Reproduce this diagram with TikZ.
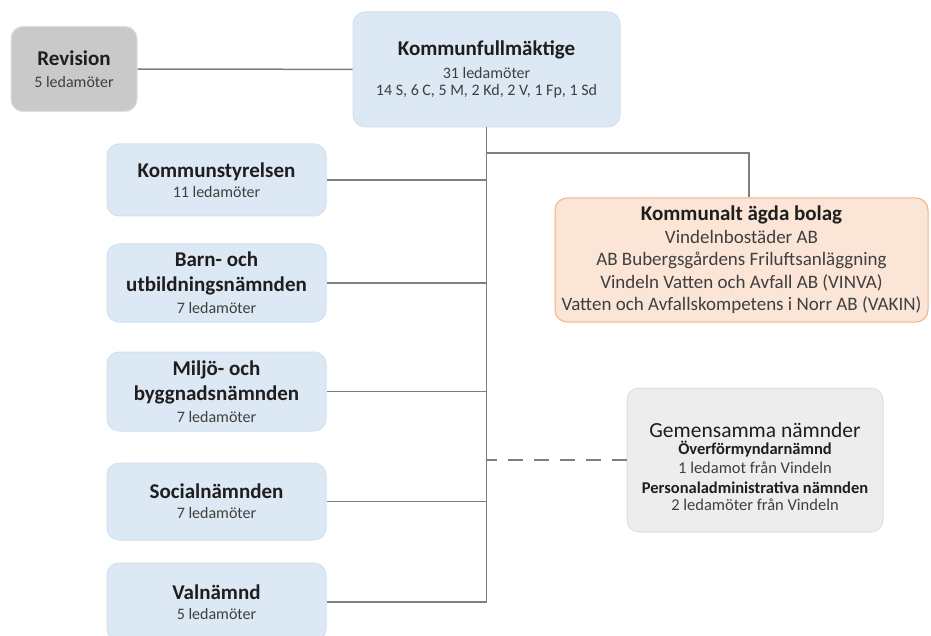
\documentclass[tikz,border=0pt]{standalone}
\usepackage{fontspec}
\setmainfont{Carlito}
\usetikzlibrary{positioning}

\definecolor{blaruta}{HTML}{DCE8F4}
\definecolor{blakant}{HTML}{D3E1F0}
\definecolor{graruta}{HTML}{C9C9C9}
\definecolor{ljusgra}{HTML}{EDEDED}
\definecolor{bolagruta}{HTML}{FBE5D6}
\definecolor{bolagkant}{HTML}{F4B183}
\definecolor{linje}{HTML}{7F7F7F}
\definecolor{rubrik}{HTML}{1E1E1E}
\definecolor{brodtext}{HTML}{3F3F3F}

\newcommand{\rubriktext}[1]{{\fontsize{21}{24}\selectfont\bfseries\color{rubrik}#1}}
\newcommand{\antaltext}[1]{{\color{brodtext}#1}}

\tikzset{
  ruta/.style={rounded corners=12pt, align=center, inner sep=0pt, draw=blakant, fill=blaruta, line width=1pt, font=\fontsize{16}{20}\selectfont},
  namnd/.style={ruta, minimum width=219pt},
  gren/.style={draw=linje, line width=1.5pt},
}

\begin{document}
\begin{tikzpicture}[x=1pt,y=-1pt]
\useasboundingbox (0,0) rectangle (931,636);

\node (kf) at (486.5, 69.5) [ruta, minimum width=267pt, minimum height=115pt] {\rubriktext{Kommunfullmäktige}\\[3pt] \antaltext{31 ledamöter}\\[-3pt] \antaltext{14 S, 6 C, 5 M, 2 Kd, 2 V, 1 Fp, 1 Sd}};
\node (rev) at (74, 69) [ruta, fill=graruta, minimum width=126pt, minimum height=85pt] {\rubriktext{Revision}\\[2pt] \antaltext{5 ledamöter}};

\node (ks) at (216.5, 180) [namnd, minimum height=72pt] {\rubriktext{Kommunstyrelsen}\\ \antaltext{11 ledamöter}};
\node (barn) at (216.5, 283) [namnd, minimum height=78pt] {\rubriktext{Barn- och}\\[5pt] \rubriktext{utbildningsnämnden}\\[2pt] \antaltext{7 ledamöter}};
\node (miljo) at (216.5, 391.5) [namnd, minimum height=79pt] {\rubriktext{Miljö- och}\\[5pt] \rubriktext{byggnadsnämnden}\\[2pt] \antaltext{7 ledamöter}};
\node (social) at (216.5, 501.5) [namnd, minimum height=77pt] {\rubriktext{Socialnämnden}\\ \antaltext{7 ledamöter}};
\node (val) at (216.5, 602) [namnd, minimum height=78pt] {\rubriktext{Valnämnd}\\ \antaltext{5 ledamöter}};

\node (bolag) at (741.5, 260) [ruta, draw=bolagkant, fill=bolagruta, minimum width=373pt, minimum height=124pt, font=\fontsize{19}{22.5}\selectfont, text=brodtext] {{\fontsize{21}{24}\selectfont\bfseries\color{rubrik}Kommunalt ägda bolag}\\ Vindelnbostäder AB\\ AB Bubergsgårdens Friluftsanläggning\\ Vindeln Vatten och Avfall AB (VINVA)\\ Vatten och Avfallskompetens i Norr AB (VAKIN)};
\node (gem) at (755, 460) [ruta, fill=ljusgra, minimum width=256pt, minimum height=144pt] {};
\node (gemtext) at ([yshift=-7pt]gem.center) [align=center, inner sep=0pt, font=\fontsize{16.5}{19.5}\selectfont, text=brodtext] {{\fontsize{21.5}{24}\selectfont\color{rubrik}Gemensamma nämnder}\\[-3pt] {\bfseries\color{rubrik}Överförmyndarnämnd}\\ 1 ledamot från Vindeln\\ {\bfseries\color{rubrik}Personaladministrativa nämnden}\\[-2pt] 2 ledamöter från Vindeln};

\coordinate (knut) at (kf.south |- 0,153);

\draw [gren] (rev) -- (kf);
\draw [gren] (kf.south) -- (kf.south |- val.east);
\draw [gren] (knut) -| ([xshift=7.5pt]bolag.north);
\foreach \n in {ks, barn, miljo, social, val}
  \draw [gren] (\n.east) -- (\n.east -| kf.south);
\draw [gren, dash pattern=on 15pt off 11pt] (gem.west) -- (gem.west -| kf.south);

\end{tikzpicture}
\end{document}
